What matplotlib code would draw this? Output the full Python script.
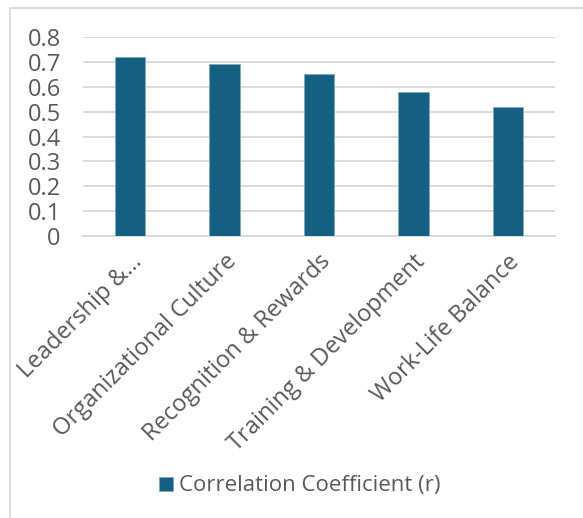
import matplotlib.pyplot as plt
from matplotlib.patches import Rectangle

# correlation of each factor with the outcome
factors = ["Leadership &\u2026", "Organizational Culture", "Recognition & Rewards",
           "Training & Development", "Work-Life Balance"]
r_values = [0.72, 0.69, 0.65, 0.58, 0.52]
y_ticks = [0, 0.1, 0.2, 0.3, 0.4, 0.5, 0.6, 0.7, 0.8]
series_name = "Correlation Coefficient (r)"

bar_color = "#156082"
text_color = "#595959"
grid_color = "#d9d9d9"

plt.rcParams['font.family'] = ['Open Sans', 'DejaVu Sans']

W, H = 583, 518
fig = plt.figure(figsize=(W / 100, H / 100), dpi=100)
ax = fig.add_axes([83 / W, 1 - 236 / H, (555 - 83) / W, (236 - 37) / H])

x = range(len(factors))
ax.bar(x, r_values, width=0.32, color=bar_color, edgecolor="#7fa9c0",
       linewidth=0.6, label=series_name, zorder=3)

ax.set_xlim(-0.5, len(factors) - 0.5)
ax.set_ylim(0, 0.8)
ax.set_yticks(y_ticks)
ax.set_yticklabels([f"{v:g}" for v in y_ticks])
ax.yaxis.grid(True, color=grid_color, linewidth=1.3, zorder=0)
ax.tick_params(axis="y", length=0, pad=16, labelsize=17, labelcolor=text_color)
ax.tick_params(axis="x", length=0, pad=10, labelsize=17, labelcolor=text_color)
ax.set_xticks(list(x))
ax.set_xticklabels(factors, rotation=45, ha="right", rotation_mode="anchor")

for side in ["top", "right", "left"]:
    ax.spines[side].set_visible(False)
ax.spines["bottom"].set_color(grid_color)
ax.spines["bottom"].set_linewidth(1.3)

leg = fig.legend(loc="center", bbox_to_anchor=(300 / W, 1 - 486 / H), frameon=False,
                 fontsize=16, handlelength=0.6, handleheight=0.6, handletextpad=0.3)
for t in leg.get_texts():
    t.set_color(text_color)

# chart frame (runs off the right and bottom edges)
fig.patches.append(Rectangle((10 / W, -0.1), 1.2, 1 - 8 / H + 0.1, transform=fig.transFigure,
                             fill=False, edgecolor=grid_color, linewidth=1.3))

fig.savefig("out.png", dpi=100)
